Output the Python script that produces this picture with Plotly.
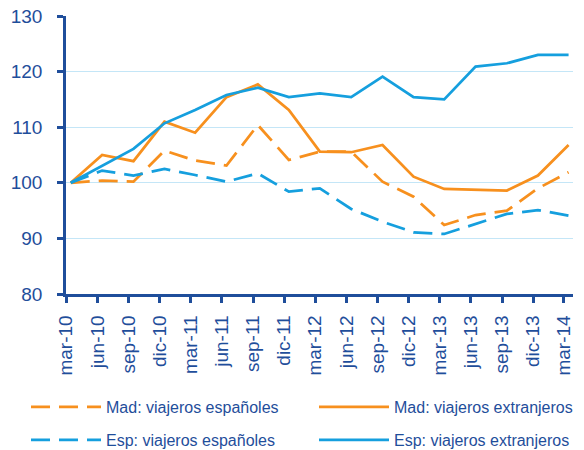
import plotly.graph_objects as go

# fechas (trimestres) y etiquetas del eje
dates = ["2010-03-15", "2010-06-15", "2010-09-15", "2010-12-15",
         "2011-03-15", "2011-06-15", "2011-09-15", "2011-12-15",
         "2012-03-15", "2012-06-15", "2012-09-15", "2012-12-15",
         "2013-03-15", "2013-06-15", "2013-09-15", "2013-12-15",
         "2014-03-15"]
tick_dates = [d[:8] + "01" for d in dates]
tick_labels = ["mar-10", "jun-10", "sep-10", "dic-10", "mar-11", "jun-11", "sep-11", "dic-11",
               "mar-12", "jun-12", "sep-12", "dic-12", "mar-13", "jun-13", "sep-13", "dic-13",
               "mar-14"]

# indices base 100 = mar-10
mad_esp = [100, 100.4, 100.2, 105.8, 104.0, 103.1, 110.4, 104.1, 105.6, 105.6,
           100.2, 97.5, 92.4, 94.2, 95.0, 99.0, 101.9]
mad_ext = [100, 105.0, 103.9, 111.0, 109.0, 115.4, 117.7, 113.1, 105.6, 105.5,
           106.8, 101.1, 98.9, 98.8, 98.6, 101.3, 106.8]
esp_esp = [100, 102.2, 101.3, 102.5, 101.4, 100.2, 101.7, 98.4, 99.0, 95.3,
           93.0, 91.1, 90.8, 92.6, 94.4, 95.1, 94.1]
esp_ext = [100, 103.0, 106.1, 110.7, 113.1, 115.8, 117.1, 115.4, 116.1, 115.4,
           119.1, 115.4, 115.0, 120.9, 121.5, 123.0, 123.0]

ORANGE = "#F7901E"
BLUE = "#159FDE"
NAVY = "#1F4E9B"
GRID = "#C4E6F7"
FONT = "Liberation Sans, Arial, sans-serif"
DASH = "19px,9px"

series = [
    ("Mad: viajeros españoles", mad_esp, ORANGE, DASH, "legend", 26, 407),
    ("Mad: viajeros extranjeros", mad_ext, ORANGE, "solid", "legend2", 314, 407),
    ("Esp: viajeros españoles", esp_esp, BLUE, DASH, "legend3", 26, 440),
    ("Esp: viajeros extranjeros", esp_ext, BLUE, "solid", "legend4", 314, 440),
]

fig = go.Figure()
legends = {}
for name, vals, color, dash, leg, lx, ly in series:
    fig.add_trace(go.Scatter(x=dates, y=vals, name=name, mode="lines",
                             line=dict(color=color, width=2.75, dash=dash), legend=leg))
    legends[leg] = dict(orientation="h", xref="container", yref="container",
                        x=lx / 584, y=1 - ly / 450, xanchor="left", yanchor="middle",
                        itemwidth=70, font=dict(family=FONT, size=16, color=NAVY),
                        bgcolor="rgba(0,0,0,0)", itemclick=False)

fig.update_layout(
    width=584, height=450,
    margin=dict(l=66, r=11, t=16, b=156, autoexpand=False),
    paper_bgcolor="white", plot_bgcolor="white",
    font=dict(family=FONT, size=19, color=NAVY),
    showlegend=True,
    xaxis=dict(
        type="date", range=["2010-03-01", "2014-03-28"],
        tickvals=tick_dates, ticktext=tick_labels, tickangle=-90,
        showline=True, linecolor=NAVY, linewidth=2.5,
        ticks="outside", ticklen=6, tickwidth=2.5, tickcolor=NAVY,
        showgrid=False, zeroline=False, ticklabelstandoff=5, automargin=False,
        tickfont=dict(family=FONT, size=19, color=NAVY),
    ),
    yaxis=dict(
        range=[80, 130], dtick=10, tick0=80,
        showline=True, linecolor=NAVY, linewidth=2.5,
        ticks="outside", ticklen=6, tickwidth=2.5, tickcolor=NAVY,
        showgrid=True, gridcolor=GRID, gridwidth=1, zeroline=False,
        ticklabelstandoff=11, automargin=False,
        tickfont=dict(family=FONT, size=19, color=NAVY),
    ),
    **legends,
)

# quitar el margen del body para que la figura ocupe la ventana entera
fig.write_html("out.html", config={"displayModeBar": False},
               post_script="document.body.style.margin='0';")
